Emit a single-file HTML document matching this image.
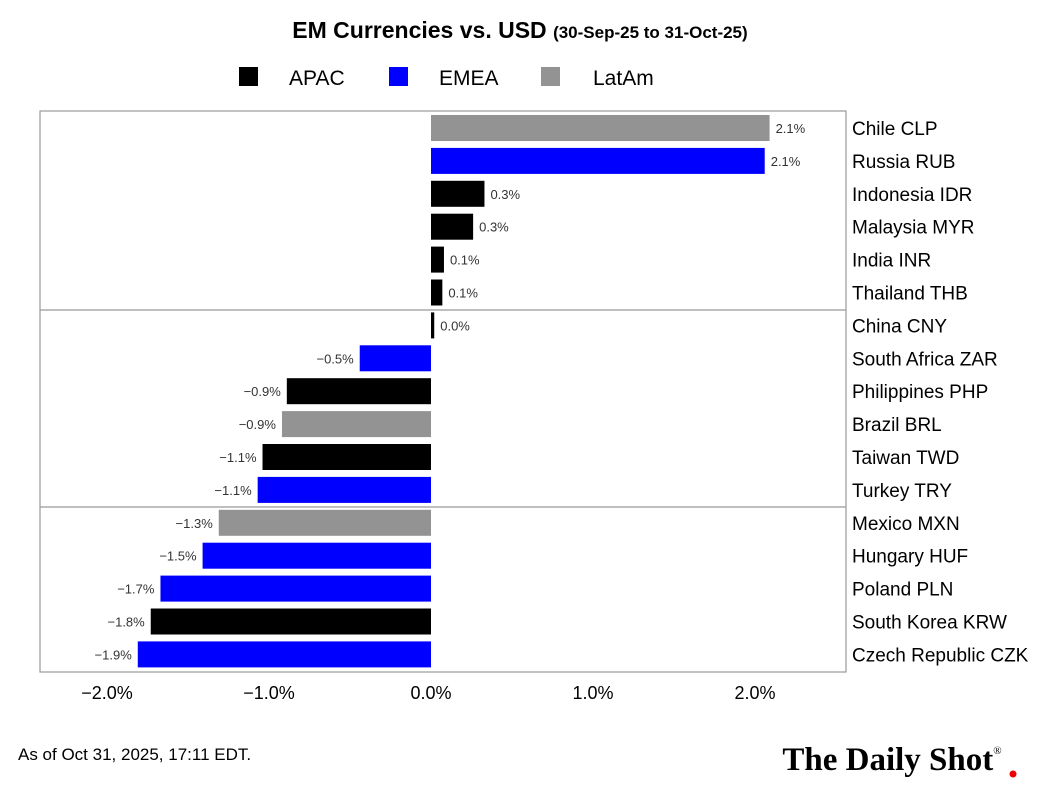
<!DOCTYPE html>
<html><head><meta charset="utf-8"><style>
body{margin:0;background:#fff;font-family:"Liberation Sans",sans-serif;}
svg text{font-family:"Liberation Sans",sans-serif;}
</style></head><body>
<svg width="1042" height="798" xmlns="http://www.w3.org/2000/svg">
<rect width="1042" height="798" fill="#fff"/>
<text x="520" y="38" text-anchor="middle" font-size="23" font-weight="bold">EM Currencies vs. USD <tspan font-size="17">(30-Sep-25 to 31-Oct-25)</tspan></text>
<g>
<rect x="239" y="67" width="19" height="19" fill="#000"/>
<text x="289" y="85" font-size="21">APAC</text>
<rect x="389" y="67" width="19" height="19" fill="#0000ff"/>
<text x="439" y="85" font-size="21">EMEA</text>
<rect x="541" y="67" width="19" height="19" fill="#939393"/>
<text x="593" y="85" font-size="21">LatAm</text>
</g>
<rect x="40" y="111" width="806" height="561" fill="none" stroke="#999" stroke-width="1.2"/>
<line x1="40" y1="310" x2="846" y2="310" stroke="#999" stroke-width="1.2"/>
<line x1="40" y1="507" x2="846" y2="507" stroke="#999" stroke-width="1.2"/>
<g id="bars"></g>
<g id="axis"></g>
<text x="18" y="760" font-size="17">As of Oct 31, 2025, 17:11 EDT.</text>
<text x="892" y="770" text-anchor="middle" font-size="33" font-weight="bold" font-family="Liberation Serif" style="font-family:'Liberation Serif',serif">The Daily Shot<tspan font-size="11" dy="-16" font-weight="normal">®</tspan></text>
<circle cx="1013" cy="774" r="3.5" fill="#e00"/>
</svg>
<script>
const categories=["Chile CLP","Russia RUB","Indonesia IDR","Malaysia MYR","India INR","Thailand THB","China CNY","South Africa ZAR","Philippines PHP","Brazil BRL","Taiwan TWD","Turkey TRY","Mexico MXN","Hungary HUF","Poland PLN","South Korea KRW","Czech Republic CZK"];
const values=[2.09,2.06,0.33,0.26,0.08,0.07,0.02,-0.44,-0.89,-0.92,-1.04,-1.07,-1.31,-1.41,-1.67,-1.73,-1.81];
const labels=["2.1%","2.1%","0.3%","0.3%","0.1%","0.1%","0.0%","\u22120.5%","\u22120.9%","\u22120.9%","\u22121.1%","\u22121.1%","\u22121.3%","\u22121.5%","\u22121.7%","\u22121.8%","\u22121.9%"];
const regions=["LatAm","EMEA","APAC","APAC","APAC","APAC","APAC","EMEA","APAC","LatAm","APAC","EMEA","LatAm","EMEA","EMEA","APAC","EMEA"];
const ticks=[-2,-1,0,1,2];
const tickLabels=["\u22122.0%","\u22121.0%","0.0%","1.0%","2.0%"];
const colors={APAC:"#000",EMEA:"#0000ff",LatAm:"#939393"};
const NS="http://www.w3.org/2000/svg";
const x=v=>431+v*162;
const y=i=>128+i*32.9;
const g=document.getElementById('bars');
function mk(t,a,p){const e=document.createElementNS(NS,t);for(const k in a)e.setAttribute(k,a[k]);p.appendChild(e);return e;}
values.forEach((v,i)=>{
  const r=mk('rect',{x:Math.min(x(0),x(v)),y:y(i)-13,width:Math.max(Math.abs(x(v)-x(0)),2),height:26,fill:colors[regions[i]]},g);
  
  
  const t=mk('text',{x:v>=0?x(v)+6:x(v)-6,y:y(i)+5,'font-size':13,fill:'#333','text-anchor':v>=0?'start':'end'},g);
  t.textContent=labels[i];
  
  
  const c=mk('text',{x:852,y:y(i)+7,'font-size':19},g);
  c.textContent=categories[i];
  
  
});
const ax=document.getElementById('axis');
ticks.forEach((t,i)=>{
  const e=mk('text',{x:x(t),y:699,'font-size':18,'text-anchor':'middle'},ax);
  e.textContent=tickLabels[i];
  
  
});
</script>
</body></html>
